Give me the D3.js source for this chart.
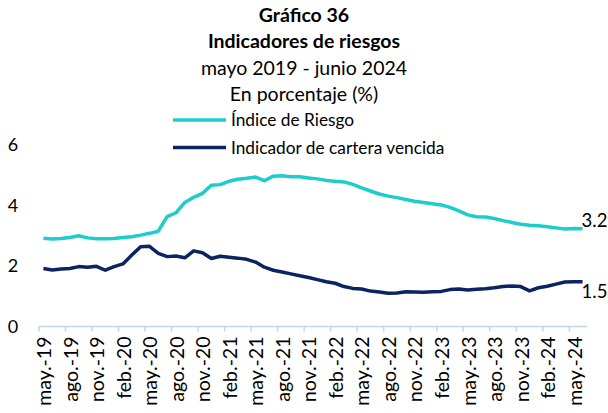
<!DOCTYPE html>
<html>
<head>
<meta charset="utf-8">
<script src="https://cdn.jsdelivr.net/npm/d3@7"></script>
<style>
  body { margin: 0; background: #fff; }
  svg { font-family: Lato, "Open Sans", sans-serif; }
</style>
</head>
<body>
<div id="chart"></div>
<script>
// month labels, may.-19 ... jun.-24
var mesesCortos = ["ene.", "feb.", "mar.", "abr.", "may.", "jun.", "jul.", "ago.", "sep.", "oct.", "nov.", "dic."];
var categorias = [];
for (var k = 0; k < 62; k++) {
  var m = (4 + k) % 12, a = 19 + Math.floor((4 + k) / 12);
  categorias.push(mesesCortos[m] + "-" + a);
}

var indiceRiesgo = [2.92, 2.89, 2.91, 2.94, 3.00, 2.93, 2.90, 2.90, 2.91, 2.94,
  2.97, 3.02, 3.08, 3.15, 3.63, 3.76, 4.10, 4.27, 4.40, 4.67,
  4.69, 4.80, 4.87, 4.90, 4.94, 4.82, 4.97, 4.98, 4.95, 4.95,
  4.91, 4.88, 4.83, 4.80, 4.78, 4.70, 4.58, 4.48, 4.38, 4.31,
  4.26, 4.20, 4.14, 4.10, 4.06, 4.02, 3.94, 3.82, 3.69, 3.63,
  3.62, 3.57, 3.50, 3.44, 3.38, 3.35, 3.33, 3.30, 3.26, 3.22,
  3.24, 3.23];

var carteraVencida = [1.92, 1.87, 1.90, 1.92, 1.98, 1.96, 1.99, 1.86, 1.98, 2.07,
  2.36, 2.64, 2.65, 2.42, 2.31, 2.33, 2.27, 2.50, 2.44, 2.25,
  2.32, 2.29, 2.26, 2.22, 2.13, 1.96, 1.86, 1.80, 1.74, 1.68,
  1.62, 1.55, 1.48, 1.43, 1.32, 1.26, 1.24, 1.17, 1.14, 1.10,
  1.11, 1.15, 1.14, 1.13, 1.15, 1.16, 1.22, 1.24, 1.21, 1.23,
  1.25, 1.28, 1.32, 1.34, 1.32, 1.18, 1.28, 1.33, 1.40, 1.47,
  1.48, 1.48];

var yTicks = [0, 2, 4, 6];
var titulos = ["Gráfico 36", "Indicadores de riesgos", "mayo 2019 - junio 2024", "En porcentaje (%)"];
var series = [
  { nombre: "Índice de Riesgo", valores: indiceRiesgo, color: "#1DCDCB", etiqueta: "3.2", dy: -8 },
  { nombre: "Indicador de cartera vencida", valores: carteraVencida, color: "#0C2361", etiqueta: "1.5", dy: 10 }
];

var width = 608, height = 413;
var svg = d3.select("#chart").append("svg")
  .attr("width", width)
  .attr("height", height);

// band scale: ticks go between categories, points in the middle
var x = d3.scaleBand().domain(categorias).range([39, 587]).paddingInner(0).paddingOuter(0);
var y = d3.scaleLinear().domain([0, 6]).range([326.5, 145]);
var cx = function(i){ return x(categorias[i]) + x.bandwidth() / 2; };

// titles
svg.selectAll("text.titulo")
  .data(titulos)
  .enter()
  .append("text")
  .attr("class", "titulo")
  .attr("x", 304)
  .attr("y", function(d, i){ return 21.5 + i * 26.5; })
  .attr("text-anchor", "middle")
  .attr("font-size", "19.5px")
  .attr("font-weight", function(d, i){ return i < 2 ? "bold" : "normal"; })
  .attr("fill", "#000")
  .text(function(d){ return d; });

// legend
var leyenda = svg.selectAll("g.leyenda")
  .data(series)
  .enter()
  .append("g")
  .attr("class", "leyenda")
  .attr("transform", function(d, i){ return "translate(173," + (120 + i * 27.5) + ")"; });
leyenda.append("line")
  .attr("x1", 0).attr("x2", 53)
  .attr("stroke", function(d){ return d.color; })
  .attr("stroke-width", 3.5);
leyenda.append("text")
  .attr("x", 58).attr("dy", "0.35em")
  .attr("font-size", "17.3px")
  .attr("fill", "#000")
  .text(function(d){ return d.nombre; });

// y labels, no axis line
svg.selectAll("text.ytick")
  .data(yTicks)
  .enter()
  .append("text")
  .attr("class", "ytick")
  .attr("x", 13)
  .attr("y", function(d){ return y(d); })
  .attr("dy", "0.35em")
  .attr("text-anchor", "middle")
  .attr("font-size", "18px")
  .attr("fill", "#000")
  .text(function(d){ return d; });

// x axis: every 3rd month labelled, ticks at the band edges
var etiquetasX = categorias.filter(function(d, i){ return i % 3 === 0; });
var ejeX = svg.append("g").attr("transform", "translate(0," + y(0) + ")");
ejeX.append("line")
  .attr("x1", 39).attr("x2", 587)
  .attr("stroke", "#BDD7EE").attr("stroke-width", 1.5);
ejeX.selectAll("line.tick")
  .data(etiquetasX)
  .enter()
  .append("line")
  .attr("class", "tick")
  .attr("x1", function(d){ return x(d); })
  .attr("x2", function(d){ return x(d); })
  .attr("y1", 0).attr("y2", 5)
  .attr("stroke", "#BDD7EE").attr("stroke-width", 1.5);
ejeX.selectAll("text")
  .data(etiquetasX)
  .enter()
  .append("text")
  .attr("transform", function(d){
    return "translate(" + (x(d) + x.bandwidth() / 2 + 1) + ",10) rotate(-90)";
  })
  .attr("text-anchor", "end")
  .attr("dy", "0.35em")
  .attr("font-size", "19.5px")
  .attr("fill", "#000")
  .text(function(d){ return d; });

// lines
var linea = d3.line()
  .x(function(d, i){ return cx(i); })
  .y(function(d){ return y(d); });

svg.selectAll("path.serie")
  .data(series)
  .enter()
  .append("path")
  .attr("class", "serie")
  .attr("d", function(d){ return linea(d.valores); })
  .attr("fill", "none")
  .attr("stroke", function(d){ return d.color; })
  .attr("stroke-width", 3.5)
  .attr("stroke-linejoin", "round");

// end labels
svg.selectAll("text.final")
  .data(series)
  .enter()
  .append("text")
  .attr("class", "final")
  .attr("x", cx(61) - 1)
  .attr("y", function(d){ return y(d.valores[61]) + d.dy; })
  .attr("dy", "0.35em")
  .attr("font-size", "18.5px")
  .attr("fill", "#000")
  .text(function(d){ return d.etiqueta; });
</script>
</body>
</html>
